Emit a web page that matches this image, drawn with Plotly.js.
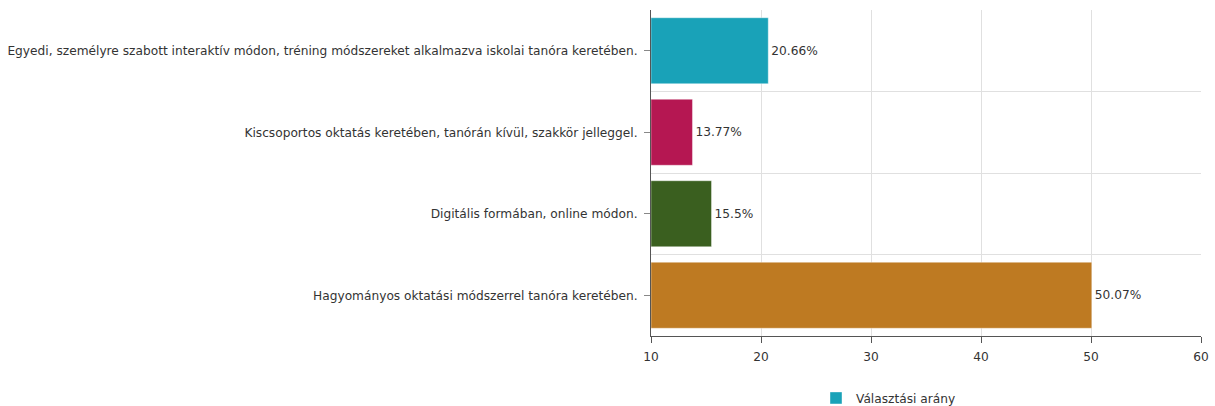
<!DOCTYPE html>
<html>
<head>
<meta charset="utf-8">
<script src="https://cdn.plot.ly/plotly-3.0.1.min.js"></script>
<style>html,body{margin:0;padding:0;background:#fff;}#chart{width:1215px;height:406px;}</style>
</head>
<body>
<div id="chart"></div>
<script>
const categories = [
  "Egyedi, személyre szabott interaktív módon, tréning módszereket alkalmazva iskolai tanóra keretében.",
  "Kiscsoportos oktatás keretében, tanórán kívül, szakkör jelleggel.",
  "Digitális formában, online módon.",
  "Hagyományos oktatási módszerrel tanóra keretében."
];
const values = [20.66, 13.77, 15.5, 50.07];
const labels = ["20.66%", "13.77%", "15.5%", "50.07%"];
const barColors = ["#19a2b8", "#b51752", "#3a5f1f", "#be7a22"];
const seriesName = "Választási arány";
const xTicks = [10, 20, 30, 40, 50, 60];
const axisBase = 10;

const positions = categories.map((c, i) => i);

const trace = {
  type: "bar",
  orientation: "h",
  x: values.map(v => v - axisBase),
  base: axisBase,
  y: positions,
  name: seriesName,
  text: labels,
  textposition: "outside",
  cliponaxis: false,
  textfont: {family: "DejaVu Sans, Verdana, sans-serif", size: 12.2, color: "#333"},
  marker: {color: barColors, line: {color: "rgba(255,255,255,0.4)", width: 1}},
  width: 0.81,
  showlegend: true,
  hoverinfo: "x+y"
};

const layout = {
  width: 1215,
  height: 406,
  margin: {l: 651, r: 14, t: 10, b: 70, autoexpand: false},
  paper_bgcolor: "#fff",
  plot_bgcolor: "#fff",
  font: {family: "DejaVu Sans, Verdana, sans-serif", size: 12.2, color: "#333"},
  showlegend: true,
  legend: {orientation: "h", x: 0.30, xanchor: "left", y: -0.19, yanchor: "middle", font: {size: 12.2, color: "#333"}},
  xaxis: {
    range: [10, 60],
    tickvals: xTicks,
    ticktext: xTicks.map(String),
    showgrid: true,
    gridcolor: "#e0e0e0",
    zeroline: false,
    showline: true,
    linecolor: "#555",
    linewidth: 1,
    ticks: "outside",
    ticklen: 6,
    tickcolor: "#555",
    ticklabelstandoff: 3,
    tickfont: {size: 12.2, color: "#333"},
    automargin: false
  },
  yaxis: {
    range: [3.5, -0.5],
    tickvals: positions,
    ticktext: categories,
    showgrid: false,
    zeroline: false,
    showline: true,
    linecolor: "#555",
    ticks: "outside",
    ticklen: 6,
    tickcolor: "#888",
    ticklabelstandoff: 4,
    tickfont: {size: 12.2, color: "#333"},
    automargin: false,
    minor: {tick0: -0.5, dtick: 1, showgrid: true, gridcolor: "#e0e0e0", ticks: ""}
  }
};

Plotly.newPlot("chart", [trace], layout, {displayModeBar: false, staticPlot: true});
</script>
</body>
</html>
